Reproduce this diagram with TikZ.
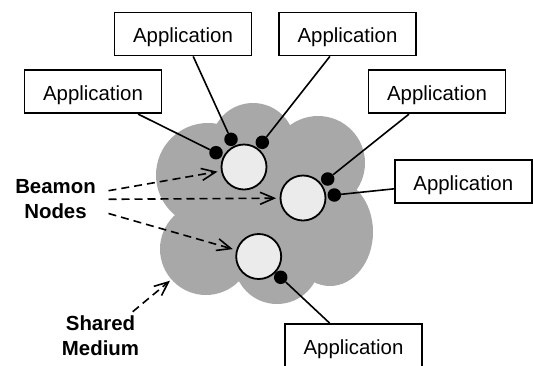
\documentclass[tikz,border=0pt]{standalone}
\usepackage{fontspec}
\setmainfont{Liberation Sans}
\usetikzlibrary{arrows.meta}
\definecolor{cloudgray}{RGB}{168,168,168}
\definecolor{nodefill}{RGB}{235,235,235}

\begin{document}
\begin{tikzpicture}[x=1pt,y=-1pt,
  appbox/.style={draw,line width=1.8pt,fill=white,minimum width=137pt,
    minimum height=43pt,inner sep=0pt,font=\fontsize{20.4}{24}\selectfont,
    text height=17pt,text depth=0pt},
  beamon/.style={circle,draw,line width=1.8pt,fill=nodefill,
    minimum size=45pt,inner sep=0pt},
  port/.style={circle,fill=black,minimum size=13.5pt,inner sep=0pt},
  link/.style={line width=1.6pt},
  pointer/.style={line width=1.6pt,dash pattern=on 8pt off 5pt,
    -{Straight Barb[length=14pt,width=12pt]}},
  caption/.style={font=\bfseries\fontsize{20.4}{25}\selectfont,align=center,
    inner sep=0pt}
]
\useasboundingbox (0,0) rectangle (533,365);

% shared medium: a cloud built from overlapping lobes
\begin{scope}[fill=cloudgray]
  \fill (268,205) ellipse [x radius=85pt,y radius=68pt];
  \fill (208,175) circle [radius=52pt];
  \fill (253,145) circle [radius=42pt];
  \fill (318,163) circle [radius=47pt];
  \fill (330,232) ellipse [x radius=43pt,y radius=54pt];
  \fill (277,261) circle [radius=43pt];
  \fill (206,249) circle [radius=46pt];
\end{scope}

% Beamon nodes
\node[beamon] (bn1) at (244,167) {};
\node[beamon] (bn2) at (303,198) {};
\node[beamon] (bn3) at (258.7,256.5) {};

% attachment points
\node[port] (d1) at (216,152.7) {};
\node[port] (d2) at (231,139.3) {};
\node[port] (d3) at (262.3,142.3) {};
\node[port] (d4) at (327.7,179) {};
\node[port] (d5) at (334.3,195) {};
\node[port] (d6) at (280.7,277.3) {};

% applications
\node[appbox] (app1) at (183,34) {Application};
\node[appbox] (app2) at (347.5,34) {Application};
\node[appbox] (app3) at (93,91.7) {Application};
\node[appbox] (app4) at (437,91.7) {Application};
\node[appbox] (app5) at (463.3,181.7) {Application};
\node[appbox] (app6) at (353.5,345.5) {Application};

\draw[link] (app3) -- (d1);
\draw[link] (app1) -- (d2);
\draw[link] (app2) -- (d3);
\draw[link] (app4) -- (d4);
\draw[link] (app5) -- (d5);
\draw[link] (app6) -- (d6);

% labels and pointers
\node[caption] (nodes) at (55.5,199) {Beamon\\Nodes};
\node[caption] (medium) at (100.5,336) {Shared\\Medium};

\coordinate (s1) at (108.5,190.7);
\coordinate (s2) at (108.5,199.3);
\coordinate (s3) at (108.5,213.5);
\coordinate (m0) at (132.7,311.7);
\coordinate (m1) at (170,280.7);

\draw[pointer,shorten >=3.5pt] (s1) -- (bn1);
\draw[pointer,shorten >=3.5pt] (s2) -- (bn2);
\draw[pointer,shorten >=3.5pt] (s3) -- (bn3);
\draw[pointer] (m0) -- (m1);
\end{tikzpicture}
\end{document}
